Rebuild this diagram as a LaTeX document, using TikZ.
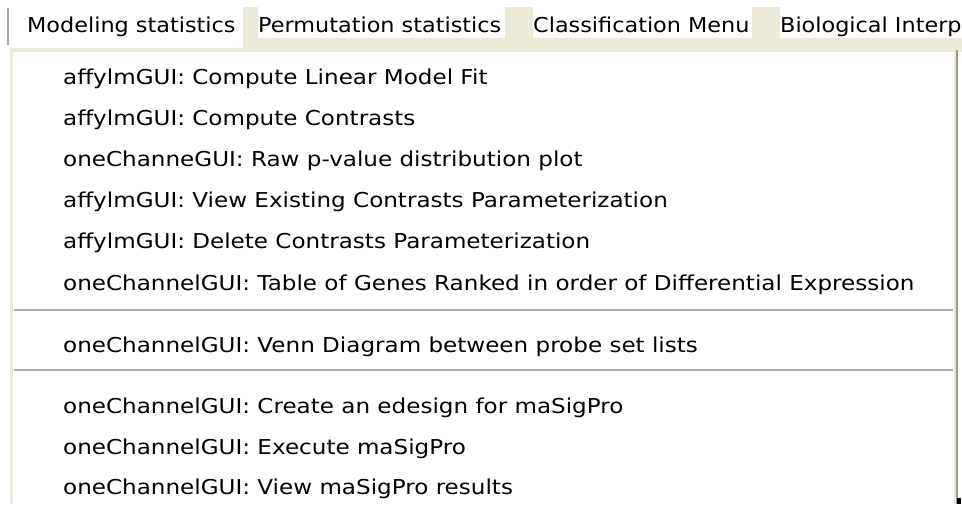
\documentclass[tikz,border=0pt]{standalone}
\usepackage{fontspec}
\setmainfont{DejaVu Sans}
\newfontfamily\itemfont{DejaVu Sans}[FakeStretch=1.125]
\newfontfamily\titlefont{DejaVu Sans}[FakeStretch=1.09]
\definecolor{xpbeige}{HTML}{ECE9D8}
\definecolor{xpgray}{HTML}{ACA899}
\definecolor{sepgray}{HTML}{A7A6AA}
\definecolor{edgegray}{HTML}{9D9A8C}
\begin{document}
\begin{tikzpicture}[x=1pt,y=-1pt,
  item/.style={anchor=base west, inner sep=0pt, text=black, font=\itemfont\fontsize{20.5}{24}\selectfont},
  title/.style={anchor=base west, inner sep=0pt, text=black, font=\titlefont\fontsize{20.5}{24}\selectfont},
  sepline/.style={draw=sepgray, line width=2pt}]
\useasboundingbox (0,0) rectangle (962,504);
\fill[white] (0,0) rectangle (962,504);
% menu bar
\fill[xpbeige] (10,7) rectangle (962,52);
\fill[white] (10,7) rectangle (243,48);
\fill[white] (258,7) rectangle (505,38);
\fill[white] (533,7) rectangle (752,38);
\fill[white] (780,7) rectangle (962,38);
\draw[xpgray, line width=2pt] (8,8) -- (8,45);
% drop-down panel
\fill[white] (13,53) rectangle (955,504);
\draw[xpbeige, line width=3pt] (11.5,504) -- (11.5,50.5) -- (956,50.5);
\draw[xpbeige, line width=2pt] (955,52) -- (955,504);
\draw[edgegray, line width=2pt] (957,50) -- (957,504);
\fill[black] (957,498) rectangle (961,504);
% menu titles
\node[title] (m1) at (27,32) {Modeling statistics};
\node[title] (m2) at (258,32) {Permutation statistics};
\node[title] (m3) at (533,32) {Classification Menu};
\node[title] (m4) at (780,32) {Biological Interp};
% items
\node[item] (i1) at (63,84) {affylmGUI: Compute Linear Model Fit};
\node[item] (i2) at (63,125.2) {affylmGUI: Compute Contrasts};
\node[item] (i3) at (63,166.4) {oneChanneGUI: Raw p-value distribution plot};
\node[item] (i4) at (63,207.6) {affylmGUI: View Existing Contrasts Parameterization};
\node[item] (i5) at (63,248.8) {affylmGUI: Delete Contrasts Parameterization};
\node[item] (i6) at (63,290) {oneChannelGUI: Table of Genes Ranked in order of Differential Expression};
\coordinate (s1a) at (14,310);
\coordinate (s1b) at (953,310);
\draw[sepline] (s1a) -- (s1b);
\node[item] (i7) at (63,352) {oneChannelGUI: Venn Diagram between probe set lists};
\coordinate (s2a) at (14,370);
\coordinate (s2b) at (953,370);
\draw[sepline] (s2a) -- (s2b);
\node[item] (i8) at (63,413) {oneChannelGUI: Create an edesign for maSigPro};
\node[item] (i9) at (63,454) {oneChannelGUI: Execute maSigPro};
\node[item] (i10) at (63,494) {oneChannelGUI: View maSigPro results};
\end{tikzpicture}
\end{document}
